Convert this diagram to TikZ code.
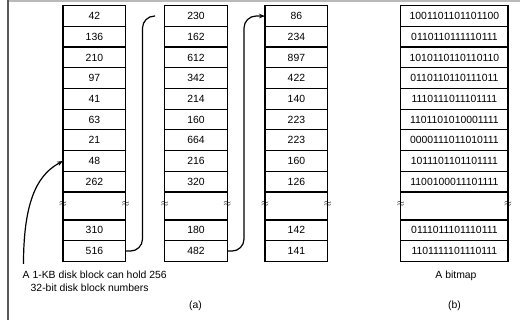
\documentclass[tikz,border=0pt]{standalone}
\usepackage{fontspec}
\setmainfont{Liberation Sans}
\usetikzlibrary{arrows.meta,positioning}

\tikzset{
  cell/.style={draw,line width=1.2pt,minimum height=20.7pt,inner sep=0pt,outer sep=0pt,
    font=\fontsize{10.4}{12}\selectfont},
  numcell/.style={cell,minimum width=62.7pt},
  bitcell/.style={cell,minimum width=107.3pt},
  gaprow/.style={minimum height=28pt},
  tilde/.style={inner sep=0pt,font=\normalsize},
  link/.style={line width=1.2pt,rounded corners=12pt},
  label/.style={inner sep=0pt,font=\fontsize{10.4}{13}\selectfont},
}

\begin{document}
\begin{tikzpicture}[x=1pt,y=-1pt]
  \useasboundingbox (0,0) rectangle (520,320);
  % frame
  \draw[gray!55,line width=1.5pt] (8,1) -- (520,1);
  \draw[black!65,line width=1.5pt] (8,0) -- (8,320);

  % (a) index blocks
  \foreach \v [count=\i] in {42,136,210,97,41,63,21,48,262}
    \node[numcell] (a\i) at (94.4,{16.05+20.7*(\i-1)}) {\v};
  \node[numcell,gaprow,below=0pt of a9] (a10) {};
  \node[numcell,below=0pt of a10] (a11) {310};
  \node[numcell,below=0pt of a11] (a12) {516};

  \foreach \v [count=\i] in {230,162,612,342,214,160,664,216,320}
    \node[numcell] (b\i) at (196,{16.05+20.7*(\i-1)}) {\v};
  \node[numcell,gaprow,below=0pt of b9] (b10) {};
  \node[numcell,below=0pt of b10] (b11) {180};
  \node[numcell,below=0pt of b11] (b12) {482};

  \foreach \v [count=\i] in {86,234,897,422,140,223,223,160,126}
    \node[numcell] (c\i) at (296.4,{16.05+20.7*(\i-1)}) {\v};
  \node[numcell,gaprow,below=0pt of c9] (c10) {};
  \node[numcell,below=0pt of c10] (c11) {142};
  \node[numcell,below=0pt of c11] (c12) {141};

  % (b) bitmap
  \foreach \v [count=\i] in {1001101101101100,0110110111110111,1010110110110110,
      0110110110111011,1110111011101111,1101101010001111,0000111011010111,
      1011101101101111,1100100011101111}
    \node[bitcell] (d\i) at (454.4,{16.05+20.7*(\i-1)}) {\v};
  \node[bitcell,gaprow,below=0pt of d9] (d10) {};
  \node[bitcell,below=0pt of d10] (d11) {0111011101110111};
  \node[bitcell,below=0pt of d11] (d12) {1101111101110111};

  % breaks
  \foreach \c in {a,b,c,d} {
    \node[tilde] at ([yshift=2pt]\c10.west) {$\approx$};
    \node[tilde] at ([yshift=2pt]\c10.east) {$\approx$};
  }

  % chaining
  \coordinate (turn1) at (142.5,16.05);
  \coordinate (end1) at (155,16.05);
  \coordinate (turn2) at (244,16.05);
  \draw[link] (a12.east) -| (turn1) -- (end1);
  \draw[link,-{Stealth[length=6pt,width=4.5pt]}] (b12.east) -| (turn2) -- (c1.west);

  % captions
  \node[label,anchor=north west,align=left] (note) at (22.5,271)
    {A 1-KB disk block can hold 256\\\hspace*{8pt}32-bit disk block numbers};
  \draw[line width=1.2pt,-{Stealth[length=6pt,width=4.5pt]}]
    ([xshift=1pt,yshift=7pt]note.north west) .. controls +(0,-70) and +(-22,12) .. (a8.west);
  \node[label] (capa) at (195.6,305.5) {(a)};
  \node[label] (bitmap) at (456,275.7) {A bitmap};
  \node[label] (capb) at (454.5,305.5) {(b)};
\end{tikzpicture}
\end{document}
